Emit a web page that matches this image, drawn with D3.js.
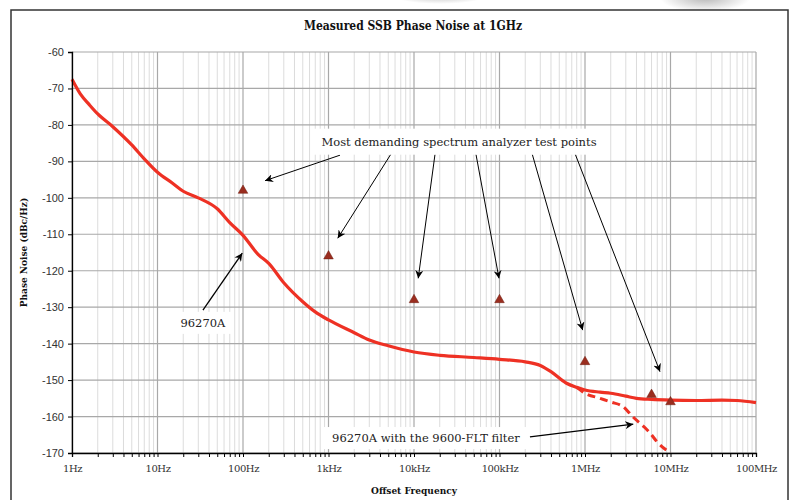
<!DOCTYPE html>
<html>
<head>
<meta charset="utf-8">
<script src="https://cdn.jsdelivr.net/npm/d3@7"></script>
<style>
  body { margin: 0; background: #fff; }
</style>
</head>
<body>
<div id="chart"></div>
<script>
// decade ticks on the frequency axis
const decades = [1, 10, 100, 1e3, 1e4, 1e5, 1e6, 1e7, 1e8];
const decadeLabels = ["1Hz", "10Hz", "100Hz", "1kHz", "10kHz", "100kHz", "1MHz", "10MHz", "100MHz"];
const levelTicks = [-60, -70, -80, -90, -100, -110, -120, -130, -140, -150, -160, -170];

// 96270A measured curve
const freq96270 = [1, 1.25, 1.6, 2, 3, 5, 7, 10, 15, 20, 30, 50, 70, 100, 150, 200, 300, 500, 700,
  1e3, 2e3, 3e3, 5e3, 1e4, 2e4, 5e4, 1e5, 2e5, 3e5, 4e5, 6e5, 8e5, 1e6, 1.5e6, 2e6, 3e6, 4e6, 6e6, 1e7, 2e7, 4e7, 6e7, 1e8];
const noise96270 = [-67.5, -71.5, -74.5, -77, -80.5, -85.5, -89.3, -93, -96, -98.2, -100, -103, -106.8, -110.3, -115.5, -118, -123.3, -128.5, -131.3,
  -133.5, -137, -139, -140.6, -142.3, -143.2, -143.8, -144.3, -145, -146, -147.7, -150.8, -152, -152.7, -153.3, -153.6, -154.4, -155, -155.3, -155.5, -155.6, -155.5, -155.6, -156.2];

// 96270A with the 9600-FLT filter
const freqFilter = [8e5, 1e6, 1.5e6, 2e6, 2.8e6, 3.6e6, 5e6, 5.8e6, 7e6, 1e7];
const noiseFilter = [-152, -153.6, -155, -156, -157.3, -160, -163, -164.6, -167, -170];

// spectrum analyzer test points
const testFreq = [100, 1e3, 1e4, 1e5, 1e6, 6e6, 1e7];
const testLevel = [-98, -116, -128, -128, -145, -154, -156];

// annotation arrows for test points: start (under the label) and tip
const arrowFromFreq = [1364, 5340, 17600, 53100, 242000, 771000];
const arrowFromLevel = [-88.3, -88.1, -88.1, -88.1, -88.1, -88.1];
const arrowToFreq = [181, 1282, 11200, 98700, 940000, 7.54e6];
const arrowToLevel = [-95.3, -111.1, -122.1, -122.1, -136.3, -147.7];

const width = 793;
const height = 500;
const margin = { top: 52, bottom: 47, left: 72, right: 37 };

const svg = d3.select("#chart")
  .append("svg")
  .attr("width", width)
  .attr("height", height);

// top-of-page shadows
const defs = svg.append("defs");
const shade = defs.append("radialGradient").attr("id", "shade");
shade.append("stop").attr("offset", "0%").attr("stop-color", "#888").attr("stop-opacity", 0.6);
shade.append("stop").attr("offset", "100%").attr("stop-color", "#888").attr("stop-opacity", 0);
svg.append("ellipse").attr("cx", 440).attr("cy", -6).attr("rx", 50).attr("ry", 10).attr("fill", "url(#shade)");
svg.append("ellipse").attr("cx", 705).attr("cy", -2).attr("rx", 45).attr("ry", 14).attr("fill", "url(#shade)");

// outer frame
svg.append("rect")
  .attr("x", 11).attr("y", 10)
  .attr("width", 777).attr("height", 520)
  .attr("fill", "#fff")
  .attr("stroke", "#333")
  .attr("stroke-width", 1.5);

const x = d3.scaleLog()
  .domain([1, 1e8])
  .range([margin.left, width - margin.right]);

const y = d3.scaleLinear()
  .domain([-170, -60])
  .range([height - margin.bottom, margin.top]);

// minor and major vertical grid
const minorFreqs = [];
decades.slice(0, -1).forEach(d => {
  for (let k = 2; k <= 9; k++) minorFreqs.push(d * k);
});

svg.append("g")
  .selectAll("line")
  .data(minorFreqs)
  .join("line")
  .attr("x1", d => x(d)).attr("x2", d => x(d))
  .attr("y1", y(-60)).attr("y2", y(-170))
  .attr("stroke", "#dcdcdc")
  .attr("stroke-width", 1);

svg.append("g")
  .selectAll("line")
  .data(decades)
  .join("line")
  .attr("x1", d => x(d)).attr("x2", d => x(d))
  .attr("y1", y(-60)).attr("y2", y(-170))
  .attr("stroke", "#a8a8a8")
  .attr("stroke-width", 1.2);

svg.append("g")
  .selectAll("line")
  .data(levelTicks)
  .join("line")
  .attr("x1", x(1)).attr("x2", x(1e8))
  .attr("y1", d => y(d)).attr("y2", d => y(d))
  .attr("stroke", "#a8a8a8")
  .attr("stroke-width", 1.2);

// labels' white boxes
function labelBox(cx, cy, w, h) {
  svg.append("rect")
    .attr("x", cx - w / 2).attr("y", cy - h / 2)
    .attr("width", w).attr("height", h)
    .attr("fill", "#fff");
}

// arrows
defs.append("marker")
  .attr("id", "arrow")
  .attr("viewBox", "0 0 10 10")
  .attr("refX", 10).attr("refY", 5)
  .attr("markerWidth", 8).attr("markerHeight", 8)
  .attr("markerUnits", "userSpaceOnUse")
  .attr("orient", "auto")
  .append("path")
  .attr("d", "M0,0 L10,5 L0,10 L3,5 Z")
  .attr("fill", "#000");

const arrows = svg.append("g");
arrowFromFreq.forEach((f, i) => {
  arrows.append("line")
    .attr("x1", x(f)).attr("y1", y(arrowFromLevel[i]))
    .attr("x2", x(arrowToFreq[i])).attr("y2", y(arrowToLevel[i]))
    .attr("stroke", "#000").attr("stroke-width", 1)
    .attr("marker-end", "url(#arrow)");
});
arrows.append("line")
  .attr("x1", x(34)).attr("y1", y(-130.8))
  .attr("x2", x(98)).attr("y2", y(-115.2))
  .attr("stroke", "#000").attr("stroke-width", 1.3)
  .attr("marker-end", "url(#arrow)");
arrows.append("line")
  .attr("x1", x(227000)).attr("y1", y(-165.6))
  .attr("x2", x(3.67e6)).attr("y2", y(-162.1))
  .attr("stroke", "#000").attr("stroke-width", 1.3)
  .attr("marker-end", "url(#arrow)");

// curves
const line = d3.line()
  .x(d => x(d[0]))
  .y(d => y(d[1]))
  .curve(d3.curveMonotoneX);

svg.append("path")
  .datum(freq96270.map((f, i) => [f, noise96270[i]]))
  .attr("d", line)
  .attr("fill", "none")
  .attr("stroke", "#ee3124")
  .attr("stroke-width", 3.2)
  .attr("stroke-linejoin", "round");

svg.append("path")
  .datum(freqFilter.map((f, i) => [f, noiseFilter[i]]))
  .attr("d", line)
  .attr("fill", "none")
  .attr("stroke", "#ee3124")
  .attr("stroke-width", 3)
  .attr("stroke-dasharray", "8,5");

// test point triangles
svg.append("g")
  .selectAll("path")
  .data(testFreq.map((f, i) => [f, testLevel[i]]))
  .join("path")
  .attr("transform", d => `translate(${x(d[0])},${y(d[1])})`)
  .attr("d", d3.symbol(d3.symbolTriangle, 40))
  .attr("fill", "#9a2d1f")
  .attr("stroke", "#6e1e12")
  .attr("stroke-width", 0.5);

// text labels
const serif = "'DejaVu Serif', serif";

labelBox(x(33600), y(-84.6), 292, 26);
svg.append("text")
  .attr("x", x(33600)).attr("y", y(-84.6))
  .attr("dy", "0.35em")
  .attr("text-anchor", "middle")
  .attr("font-family", serif)
  .attr("font-size", "11.5px")
  .attr("fill", "#222")
  .text("Most demanding spectrum analyzer test points");

labelBox(x(34), y(-134.3), 58, 22);
svg.append("text")
  .attr("x", x(34)).attr("y", y(-134.3))
  .attr("dy", "0.35em")
  .attr("text-anchor", "middle")
  .attr("font-family", serif)
  .attr("font-size", "11.5px")
  .attr("fill", "#222")
  .text("96270A");

labelBox(x(13800), y(-165.9), 206, 22);
svg.append("text")
  .attr("x", x(13800)).attr("y", y(-165.9))
  .attr("dy", "0.35em")
  .attr("text-anchor", "middle")
  .attr("font-family", serif)
  .attr("font-size", "11.5px")
  .attr("fill", "#222")
  .text("96270A with the 9600-FLT filter");

// axes
function yAxis(g) {
  g.attr("transform", `translate(${margin.left},0)`)
    .call(d3.axisLeft(y).tickValues(levelTicks).tickSize(4).tickPadding(4).tickFormat(d => String(d)))
    .call(g => g.select(".domain").attr("stroke", "#000").attr("stroke-width", 1.3))
    .call(g => g.selectAll(".tick line").attr("stroke", "#000"))
    .call(g => g.selectAll("text")
      .attr("font-family", "'Liberation Sans', Arial, sans-serif")
      .attr("font-size", "11px")
      .attr("fill", "#333"));
}

function xAxis(g) {
  g.attr("transform", `translate(0,${height - margin.bottom})`)
    .call(d3.axisBottom(x)
      .tickValues(decades.concat(minorFreqs))
      .tickSize(4)
      .tickPadding(8)
      .tickFormat(d => {
        const i = decades.indexOf(d);
        return i >= 0 ? decadeLabels[i] : "";
      }))
    .call(g => g.select(".domain").attr("stroke", "#000").attr("stroke-width", 1.3))
    .call(g => g.selectAll(".tick line").attr("stroke", "#000"))
    .call(g => g.selectAll("text")
      .attr("font-family", serif)
      .attr("font-size", "10px")
      .attr("letter-spacing", "-0.4px")
      .attr("fill", "#333"));
}

svg.append("g").call(xAxis);
svg.append("g").call(yAxis);

// titles
svg.append("text")
  .attr("x", 413).attr("y", 30)
  .attr("text-anchor", "middle")
  .attr("font-family", "'DejaVu Serif Condensed', 'DejaVu Serif', serif")
  .attr("font-weight", "bold")
  .attr("font-size", "12px")
  .attr("fill", "#111")
  .text("Measured SSB Phase Noise at 1GHz");

svg.append("text")
  .attr("x", (x(1) + x(1e8)) / 2).attr("y", 494)
  .attr("text-anchor", "middle")
  .attr("font-family", "'DejaVu Serif Condensed', 'DejaVu Serif', serif")
  .attr("font-weight", "bold")
  .attr("font-size", "10px")
  .attr("fill", "#111")
  .text("Offset Frequency");

svg.append("text")
  .attr("transform", `translate(27,${(y(-60) + y(-170)) / 2}) rotate(-90)`)
  .attr("text-anchor", "middle")
  .attr("font-family", "'DejaVu Serif Condensed', 'DejaVu Serif', serif")
  .attr("font-weight", "bold")
  .attr("font-size", "10px")
  .attr("fill", "#111")
  .text("Phase Noise (dBc/Hz)");
</script>
</body>
</html>
